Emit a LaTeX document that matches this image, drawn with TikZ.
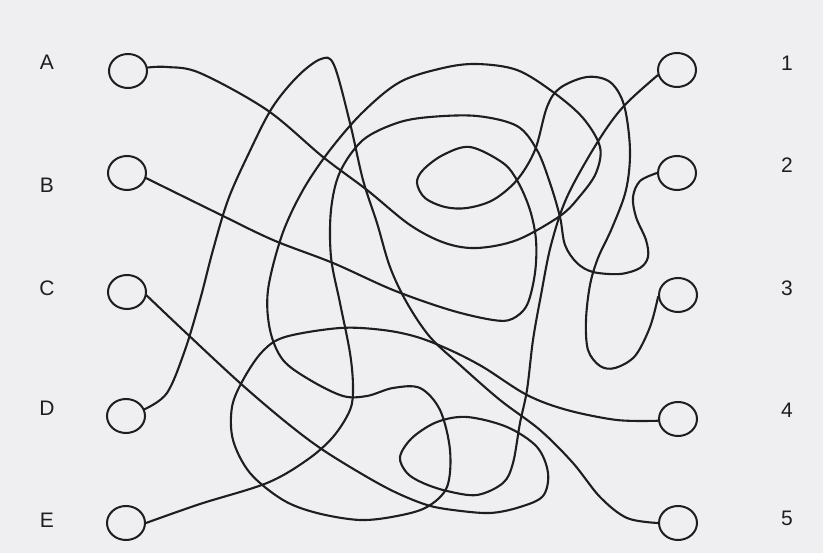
\documentclass[tikz,border=0pt]{standalone}
\usepackage{fontspec}
\setmainfont{Liberation Sans}
\usetikzlibrary{shapes.geometric}
\definecolor{bgpaper}{RGB}{239,239,242}
\definecolor{ink}{RGB}{30,30,30}
\begin{document}
\begin{tikzpicture}[x=1pt,y=-1pt,
  ring/.style={draw=ink, ellipse, minimum width=38pt, minimum height=34pt, inner sep=0pt, line width=2pt},
  lab/.style={font=\fontsize{21}{21}\selectfont, text=ink, inner sep=0pt},
  wire/.style={draw=ink, line width=2.1pt, line cap=round, line join=round}]
\fill[bgpaper] (0,0) rectangle (823,553);
\useasboundingbox (0,0) rectangle (823,553);
% circles
\node[ring] (nA) at (128,71) {};
\node[ring] (nB) at (127,173) {};
\node[ring] (nC) at (127,292) {};
\node[ring] (nD) at (126,416) {};
\node[ring] (nE) at (126,523) {};
\node[ring] (n1) at (677,70) {};
\node[ring] (n2) at (677,173) {};
\node[ring] (n3) at (678,295) {};
\node[ring] (n4) at (678,419) {};
\node[ring] (n5) at (678,523) {};
% labels
\node[lab] (lA) at (47,62) {A};
\node[lab] (lB) at (47,185) {B};
\node[lab] (lC) at (47,288) {C};
\node[lab] (lD) at (47,408) {D};
\node[lab] (lE) at (47,520) {E};
\node[lab] (l1) at (787,63) {1};
\node[lab] (l2) at (787,165) {2};
\node[lab] (l3) at (787,288) {3};
\node[lab] (l4) at (787,410) {4};
\node[lab] (l5) at (787,518) {5};
% A -> 4
\draw[wire] plot[smooth, tension=0.55] coordinates {(nA.10) (167,67) (200,73) (267,110) (323,157) (367,190) (410,225) (445,243) (477,248) (517,240) (560,216) (580,196) (596,173) (600,147) (583,118) (553,92) (517,70) (477,64) (443,68) (400,82) (363,112) (330,150) (303,190) (282,235) (268,290) (270,330) (283,360) (310,380) (343,396) (367,396) (393,388) (420,388) (440,410) (450,450) (447,487) (427,507) (397,516) (360,520) (317,513) (283,500) (250,473) (233,440) (232,407) (243,380) (262,352) (285,337) (340,328) (383,330) (417,337) (450,350) (483,367) (527,395) (567,410) (617,420) (n4.185)};
% E -> 2
\draw[wire] plot[smooth, tension=0.55] coordinates {(nE.0) (200,504) (267,483) (307,460) (333,437) (350,410) (353,387) (350,353) (340,303) (331,257) (331,210) (340,172) (363,140) (397,123) (430,117) (477,116) (517,126) (537,150) (550,183) (560,217) (565,245) (577,263) (593,272) (620,274) (640,268) (648,257) (646,240) (636,217) (633,197) (640,181) (n2.180)};
% B -> 3
\draw[wire] plot[smooth, tension=0.55] coordinates {(nB.-15) (217,213) (273,240) (333,263) (393,290) (450,310) (493,320) (512,319) (527,305) (535,273) (536,240) (530,210) (518,182) (503,163) (470,147) (443,155) (423,170) (417,183) (425,198) (445,207) (467,208) (493,200) (517,180) (535,150) (547,107) (560,88) (587,77) (610,82) (624,105) (630,150) (626,190) (612,228) (598,258) (590,285) (586,320) (588,350) (600,366) (615,368) (635,356) (650,327) (n3.185)};
% C -> 1
\draw[wire] plot[smooth, tension=0.55] coordinates {(nC.-10) (183,330) (240,383) (287,423) (323,450) (367,477) (397,493) (427,505) (453,510) (490,513) (520,507) (543,496) (548,473) (537,447) (507,427) (467,417) (437,422) (412,438) (400,457) (407,473) (423,483) (447,491) (477,495) (503,483) (513,463) (520,423) (527,390) (533,340) (541,295) (551,245) (567,197) (597,143) (623,107) (n1.195)};
% D -> 5
\draw[wire] plot[smooth, tension=0.55] coordinates {(nD.20) (167,393) (185,350) (200,300) (213,250) (228,200) (248,155) (272,108) (298,76) (321,59) (334,65) (350,123) (363,180) (377,223) (390,267) (407,303) (430,337) (460,365) (500,400) (540,430) (573,463) (600,497) (627,518) (n5.180)};
\end{tikzpicture}
\end{document}
